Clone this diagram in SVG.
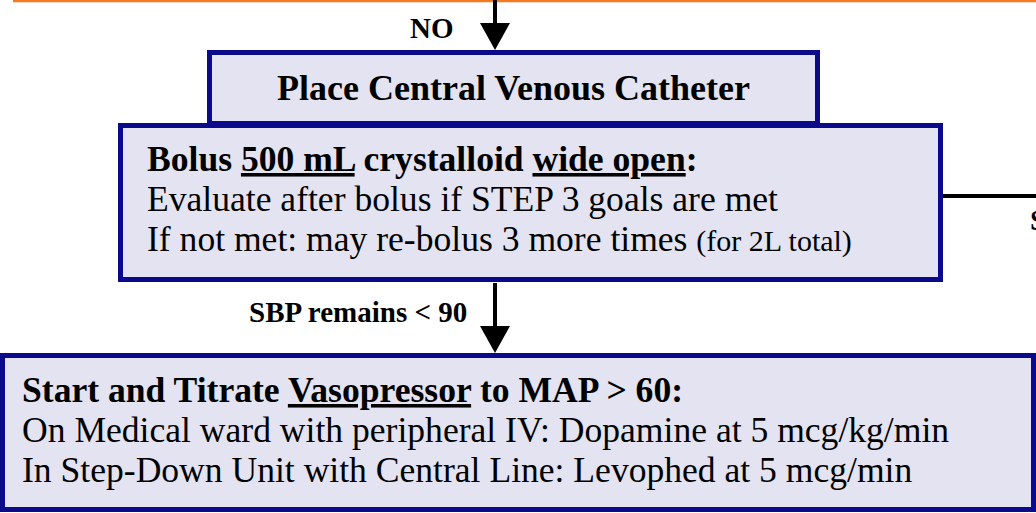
<svg xmlns="http://www.w3.org/2000/svg" width="1036" height="513" viewBox="0 0 1036 513">
<style>
  .box { fill: #E3E3F1; stroke: #0A0A8A; stroke-width: 5; }
  .t { font-family: "Liberation Serif", "Times New Roman", serif; fill: #000; }
  .body { font-size: 35.6px; }
  .title { font-size: 36px; font-weight: bold; }
  .b { font-weight: bold; }
  .lbl { font-size: 29px; font-weight: bold; }
  .small { font-size: 30px; }
  .u { text-decoration: underline; }
  .conn { stroke: #000; stroke-width: 4; fill: none; }
</style>
<defs>
  <marker id="ah" viewBox="0 0 27 30" markerWidth="27" markerHeight="30" refX="22" refY="15" orient="auto" markerUnits="userSpaceOnUse">
    <path d="M0,0 L27,15 L0,30 Z" fill="#000"/>
  </marker>
</defs>
<rect x="0" y="0" width="1036" height="513" fill="#fff"/>
<line x1="13" y1="1" x2="1036" y2="1" stroke="#F47920" stroke-width="2.5"/>

<g id="connectors">
  <line class="conn" x1="495" y1="0" x2="495" y2="45" marker-end="url(#ah)"/>
  <line class="conn" x1="495" y1="283" x2="495" y2="348" marker-end="url(#ah)"/>
  <line class="conn" x1="943" y1="196" x2="1036" y2="196"/>
  <text class="t lbl" x="410" y="38">NO</text>
  <text class="t lbl" x="249" y="322">SBP remains &lt; 90</text>
  <text class="t lbl" x="1030" y="230">S</text>
</g>

<g id="node-catheter">
  <rect class="box" x="209.5" y="52.5" width="608" height="71"/>
  <text class="t title" x="513.5" y="100" text-anchor="middle">Place Central Venous Catheter</text>
</g>

<g id="node-bolus">
  <rect class="box" x="120.5" y="125.5" width="820" height="154"/>
  <text class="t body" x="147" y="171"><tspan class="b">Bolus </tspan><tspan class="b u">500 mL</tspan><tspan class="b"> crystalloid </tspan><tspan class="b u">wide open</tspan><tspan class="b">:</tspan></text>
  <text class="t body" x="147" y="211">Evaluate after bolus if STEP 3 goals are met</text>
  <text class="t body" x="147" y="251">If not met: may re-bolus 3 more times <tspan class="small">(for 2L total)</tspan></text>
</g>

<g id="node-vasopressor">
  <rect class="box" x="2.5" y="355.5" width="1031" height="154"/>
  <text class="t body" x="22" y="402"><tspan class="b">Start and Titrate </tspan><tspan class="b u">Vasopressor</tspan><tspan class="b"> to MAP &gt; 60:</tspan></text>
  <text class="t body" x="22" y="442">On Medical ward with peripheral IV: Dopamine at 5 mcg/kg/min</text>
  <text class="t body" x="22" y="482">In Step-Down Unit with Central Line: Levophed at 5 mcg/min</text>
</g>
</svg>
